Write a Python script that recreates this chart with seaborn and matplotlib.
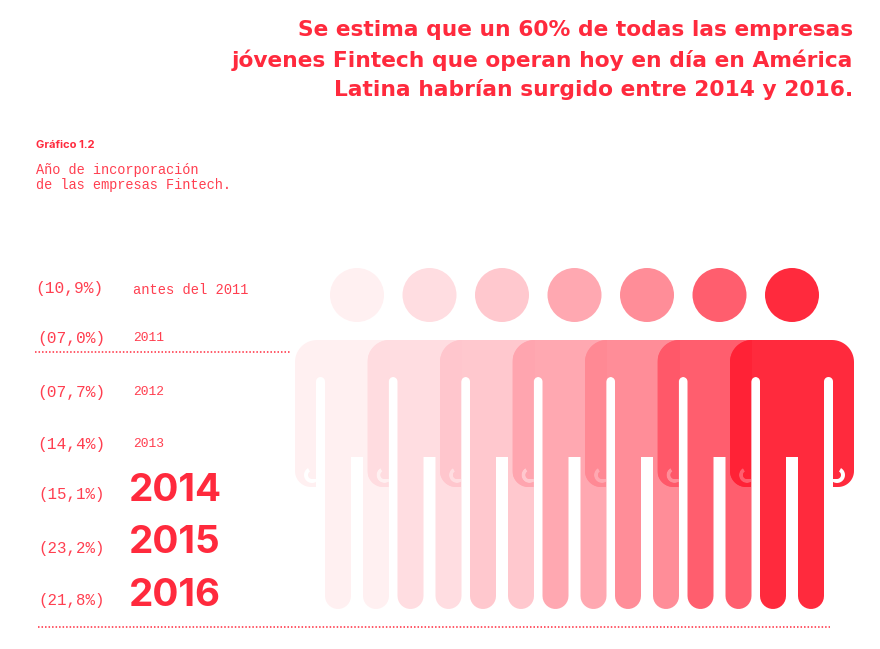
import numpy as np
import pandas as pd
import matplotlib
matplotlib.use('Agg')
import matplotlib.pyplot as plt
from matplotlib.patches import Polygon, Rectangle
import seaborn as sns

sns.set_theme(style="white")

# Data
categories = ['antes del 2011', '2011', '2012', '2013', '2014', '2015', '2016']
shares = [10.9, 7.0, 7.7, 14.4, 15.1, 23.2, 21.8]
title_lines = ['Se estima que un 60% de todas las empresas',
               'jóvenes Fintech que operan hoy en día en América',
               'Latina habrían surgido entre 2014 y 2016.']
chart_tag = 'Gráfico 1.2'
chart_desc = ['Año de incorporación', 'de las empresas Fintech.']
person_colors = ['#fff0f1', '#ffdde1', '#ffc8ce', '#ffa8b1', '#ff8d98', '#ff5e6e', '#ff2a3d']

# Layout, in pixels of the 880x649 picture
RED = '#ff2a3d'
SOFT_RED = '#ff3f50'
row_y = [288, 339, 393, 445, 495, 549, 600]
year_y = [291, 338, 392, 444, 491, 543, 596]
pct_x = [35, 37, 37, 37, 38, 38, 38]
STEP = 72.5
PERSON_X = 295
PERSON_Y = 340
HEAD_X = 357
HEAD_Y = 295
MONO = 'Liberation Mono'
BOLD = 'Inter'


def arc(cx, cy, r, start, end, n=16):
    t = np.radians(np.linspace(start, end, n))
    return np.column_stack([cx + r * np.cos(t), cy + r * np.sin(t)])


def person_outline():
    # right half of the figure, mirrored afterwards
    right = np.vstack([
        [[62, 0]],
        arc(102, 22, 22, -90, 0),
        arc(108, 131, 16, 0, 90),
        [[103, 147], [103, 142]],
        arc(107, 135, 8, 120, -60),        # thumb notch
        arc(107, 135, 4, -60, 90),
        [[103, 139]],
        arc(98.5, 41.5, 4.5, 0, -180),     # gap between arm and body
        arc(81, 256, 13, 0, 180),          # foot
        [[68, 117], [62, 117]],
    ])
    left = right[::-1].copy()
    left[:, 0] = 124 - left[:, 0]
    return np.vstack([right, left])


fig = plt.figure(figsize=(8.8, 6.49), dpi=100)
ax = fig.add_axes([0, 0, 1, 1])

# Heads
heads = pd.DataFrame({'category': categories,
                      'x': [HEAD_X + STEP * i for i in range(len(categories))],
                      'y': [HEAD_Y] * len(categories)})
sns.scatterplot(data=heads, x='x', y='y', hue='category', palette=person_colors,
                s=1512, linewidth=0, legend=False, ax=ax)
ax.set_xlim(0, 880)
ax.set_ylim(649, 0)
ax.axis('off')

# Bodies, left to right, each one hiding the right arm of the previous one
outline = person_outline()
rgb = [np.array(matplotlib.colors.to_rgb(c)) for c in person_colors]
for i, color in enumerate(person_colors):
    x0 = PERSON_X + STEP * i
    pts = outline + [x0, PERSON_Y]
    ax.add_patch(Polygon(pts, closed=True, facecolor=color, edgecolor='none', zorder=3 + i))
    if i > 0:
        # left arm lies on top of the previous figure and looks darker
        shade = rgb[i] - 0.05 * (1 - rgb[i - 1])
        arm = Polygon(pts, closed=True, facecolor=np.clip(shade, 0, 1), edgecolor='none', zorder=3 + i)
        ax.add_patch(arm)
        clip = Rectangle((x0, PERSON_Y), 22, 150, transform=ax.transData)
        arm.set_clip_path(clip)

# Dotted rules
ax.plot([35, 290], [352, 352], color=RED, lw=1.1, ls=(0, (1, 1.3)))
ax.plot([38, 830], [627, 627], color=RED, lw=1.1, ls=(0, (1, 1.3)))

# Title
for line, y in zip(title_lines, [30, 60, 89]):
    ax.text(853, y, line, color=RED, fontsize=15.7, fontweight='bold', family='DejaVu Sans',
            ha='right', va='center')

ax.text(36, 145, chart_tag, color=RED, fontsize=8, fontweight='bold', family=BOLD, va='center')
for line, y in zip(chart_desc, [170, 185]):
    ax.text(36, y, line, color=SOFT_RED, fontsize=9.85, family=MONO, va='center')

# Row labels
for i, (cat, share) in enumerate(zip(categories, shares)):
    label = f'({share:04.1f}%)'.replace('.', ',')
    big = i >= 4
    ax.text(pct_x[i], row_y[i], label, color=SOFT_RED, fontsize=11.3 if big else 11.7, family=MONO, va='center')
    if big:
        ax.text(129, year_y[i], cat, color=RED, fontsize=27.8, fontweight='bold', family=BOLD, va='center')
    else:
        ax.text(133, year_y[i] - (1 if i == 0 else 0), cat, color=SOFT_RED, fontsize=9.9 if i == 0 else 9.4,
                family=MONO, va='center')

fig.savefig('out.png', dpi=100)
